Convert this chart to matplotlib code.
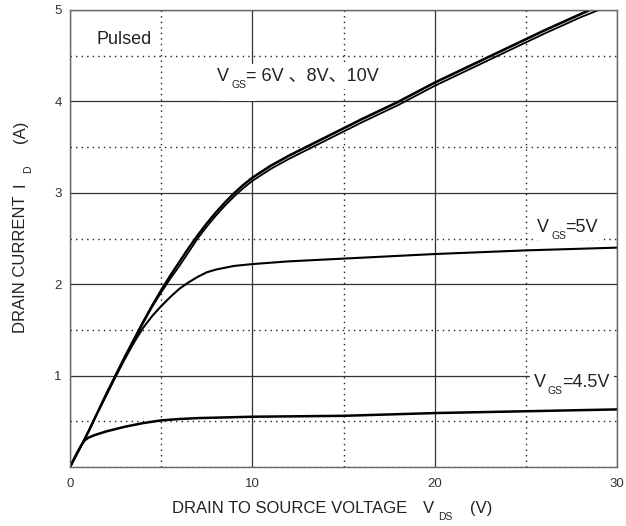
import matplotlib
matplotlib.use('Agg')
import matplotlib.pyplot as plt
from matplotlib.ticker import MultipleLocator

vds_on = [0, 0.5, 1, 1.5, 2, 2.5, 3, 3.5, 4, 4.5, 5, 5.5, 6, 6.5, 7, 7.5, 8, 8.5, 9, 9.5,
          10, 11, 12, 13, 14, 16, 18, 20, 22, 24, 26, 28, 29]
id_6v = [0, 0.19, 0.38, 0.59, 0.79, 0.99, 1.19, 1.38, 1.57, 1.75, 1.91, 2.06, 2.2, 2.35, 2.5, 2.63, 2.75, 2.86, 2.96, 3.05,
         3.13, 3.26, 3.37, 3.47, 3.57, 3.77, 3.96, 4.17, 4.36, 4.55, 4.74, 4.92, 5.0]
id_8v = [0, 0.19, 0.38, 0.59, 0.8, 1.0, 1.2, 1.39, 1.58, 1.76, 1.93, 2.09, 2.24, 2.39, 2.53, 2.66, 2.78, 2.89, 2.99, 3.08,
         3.16, 3.29, 3.4, 3.5, 3.6, 3.8, 3.99, 4.2, 4.39, 4.58, 4.77, 4.95, 5.04]
id_10v = [0, 0.19, 0.39, 0.6, 0.81, 1.01, 1.21, 1.4, 1.59, 1.77, 1.94, 2.1, 2.25, 2.4, 2.54, 2.67, 2.79, 2.9, 3.0, 3.09,
          3.17, 3.3, 3.41, 3.51, 3.61, 3.81, 4.0, 4.21, 4.4, 4.59, 4.78, 4.96, 5.05]

vds_5v = [0, 0.5, 1, 1.5, 2, 2.5, 3, 3.5, 4, 4.5, 5, 5.5, 6, 6.5, 7, 7.5, 8, 9, 10, 12, 15, 20, 25, 30]
id_5v = [0, 0.19, 0.38, 0.59, 0.79, 0.99, 1.18, 1.36, 1.52, 1.65, 1.76, 1.86, 1.95, 2.02, 2.08, 2.13, 2.16, 2.2, 2.22,
         2.25, 2.28, 2.33, 2.37, 2.40]

vds_45v = [0, 0.2, 0.4, 0.6, 0.8, 1, 1.3, 1.6, 2, 2.5, 3, 3.5, 4, 4.5, 5, 6, 7, 8, 10, 15, 20, 25, 30]
id_45v = [0, 0.08, 0.16, 0.23, 0.29, 0.32, 0.345, 0.365, 0.39, 0.415, 0.44, 0.46, 0.48, 0.495, 0.51, 0.525, 0.535, 0.54,
          0.55, 0.56, 0.59, 0.61, 0.63]

xticks = [0, 10, 20, 30]
yticks = [1, 2, 3, 4, 5]

W, H = 626, 526
FONT = ['Liberation Sans', 'Noto Sans CJK SC', 'DejaVu Sans']
TXT = '#222222'
plt.rcParams['font.family'] = FONT


def px(x, y):
    return x / W, 1 - y / H


def put(fig, ax, x, y, s, size, box=0, rot=0):
    kw = dict(fontsize=size, ha='left', va='baseline',
              rotation=rot, rotation_mode='anchor', family=FONT)
    if box:
        # white patch sits over the grid but under the curves
        ax.text(*px(x, y), s, color='none', zorder=1, transform=fig.transFigure,
                bbox=dict(facecolor='white', edgecolor='none', pad=box), **kw)
    fig.text(*px(x, y), s, color=TXT, zorder=4, **kw)


fig = plt.figure(figsize=(W / 100, H / 100), dpi=100)
ax = fig.add_axes([70 / W, 1 - 467 / H, 547 / W, 457 / H])

ax.set_xlim(0, 30)
ax.set_ylim(0, 5)
ax.set_xticks(xticks)
ax.set_yticks(yticks)
ax.xaxis.set_minor_locator(MultipleLocator(5))
ax.yaxis.set_minor_locator(MultipleLocator(0.5))
ax.grid(which='major', color='#333333', lw=0.9, ls='-')
ax.grid(which='minor', color='#222222', lw=1.0, ls=(0, (1, 3)))
ax.set_axisbelow(True)
ax.tick_params(which='both', length=0)
ax.tick_params(axis='y', pad=6, labelsize=9.5, labelcolor='#333333')
ax.tick_params(axis='x', pad=8, labelsize=9.5, labelcolor='#333333')
for sp in ax.spines.values():
    sp.set_color('#666666')
    sp.set_linewidth(1.0)

for ids in (id_6v, id_8v, id_10v):
    ax.plot(vds_on, ids, color='black', lw=1.3, zorder=2)
ax.plot(vds_5v, id_5v, color='black', lw=1.5, zorder=2)
ax.plot(vds_45v, id_45v, color='black', lw=1.8, zorder=2)

# annotations
put(fig, ax, 97, 44, 'Pulsed', 13)

put(fig, ax, 217, 81, 'V', 13, box=3)
put(fig, ax, 231, 88, 'GS', 7.5, box=8)
put(fig, ax, 246, 81, '= 6V 、8V、10V', 13, box=3)

put(fig, ax, 537, 232, 'V', 13, box=3)
put(fig, ax, 551, 239, 'GS', 7.5, box=8)
put(fig, ax, 565, 232, '=5V', 13, box=3)

put(fig, ax, 534, 387, 'V', 13, box=3)
put(fig, ax, 548, 394, 'GS', 7.5, box=8)
put(fig, ax, 562, 387, '=4.5V', 13, box=3)

# axis labels
put(fig, ax, 172, 513, 'DRAIN TO SOURCE VOLTAGE', 12)
put(fig, ax, 423, 513, 'V', 12)
put(fig, ax, 438, 520, 'DS', 7.5)
put(fig, ax, 470, 513, '(V)', 12)

put(fig, ax, 25, 333, 'DRAIN CURRENT', 12, rot=90)
put(fig, ax, 25, 187, 'I', 12, rot=90)
put(fig, ax, 31, 173, 'D', 7.5, rot=90)
put(fig, ax, 25, 143, '(A)', 12, rot=90)

fig.savefig('out.png', dpi=100)
